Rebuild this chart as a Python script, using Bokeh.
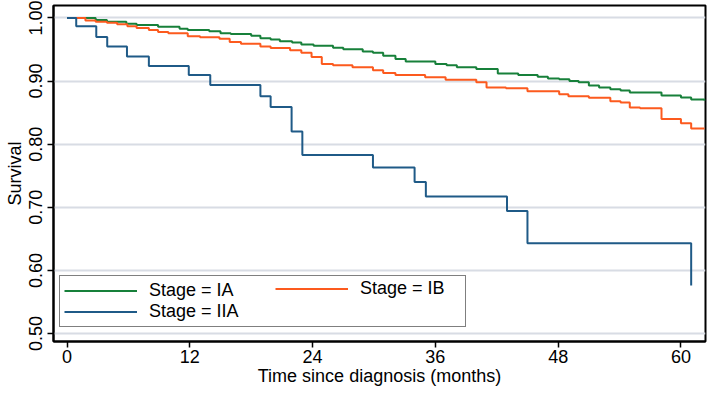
from bokeh.plotting import figure
from bokeh.models import Range1d, FixedTicker, Legend, LegendItem
from bokeh.embed import file_html
from bokeh.resources import INLINE

# ---- data ----
ia_t = [0, 2.8, 3.9, 5.8, 6.8, 8.9, 11.0, 11.8, 13.9, 15.0, 16.0, 18.0, 18.9, 19.9,
        20.8, 22.0, 22.9, 24.1, 26.0, 27.0, 28.9, 29.9, 30.9, 32.1, 33.1, 36.0, 37.1,
        38.1, 40.0, 42.1, 44.1, 46.0, 47.0, 48.1, 49.1, 50.0, 51.0, 52.0, 53.1, 54.1,
        55.0, 58.1, 60.0, 61.0, 62.3]
ia_s = [1.0, 0.997, 0.994, 0.991, 0.989, 0.986, 0.983, 0.981, 0.979, 0.976, 0.9746,
        0.972, 0.968, 0.966, 0.963, 0.961, 0.958, 0.956, 0.953, 0.9505, 0.947, 0.945,
        0.940, 0.935, 0.931, 0.927, 0.925, 0.922, 0.919, 0.912, 0.9095, 0.907, 0.904,
        0.903, 0.900, 0.898, 0.893, 0.890, 0.887, 0.885, 0.882, 0.877, 0.874, 0.871,
        0.869]

ib_t = [0, 1.8, 2.8, 3.9, 4.9, 5.9, 6.8, 8.0, 8.9, 9.9, 11.8, 13.0, 14.9, 15.9, 17.0,
        18.9, 19.9, 21.8, 22.9, 23.9, 24.9, 26.0, 27.9, 29.9, 30.9, 32.1, 35.0, 37.0,
        40.0, 41.0, 42.9, 45.0, 48.1, 49.0, 51.0, 53.1, 54.1, 55.0, 56.0, 58.1, 60.0,
        61.0, 62.3]
ib_s = [1.0, 0.996, 0.994, 0.9926, 0.990, 0.987, 0.984, 0.981, 0.978, 0.976, 0.971,
        0.9695, 0.967, 0.962, 0.959, 0.955, 0.9526, 0.949, 0.945, 0.938, 0.927, 0.925,
        0.922, 0.917, 0.913, 0.9095, 0.906, 0.902, 0.898, 0.890, 0.8885, 0.884, 0.879,
        0.876, 0.8735, 0.868, 0.866, 0.858, 0.857, 0.840, 0.833, 0.825, 0.825]

iia_t = [0, 0.9, 2.86, 3.93, 5.86, 8.0, 11.9, 14.0, 18.9, 19.9, 21.95, 23.0, 29.9,
         33.97, 35.07, 43.0, 45.0, 61.0]
iia_s = [1.0, 0.987, 0.970, 0.955, 0.939, 0.924, 0.9095, 0.894, 0.876, 0.859, 0.820,
         0.783, 0.763, 0.740, 0.717, 0.694, 0.643, 0.576]

series_names = ["Stage = IA", "Stage = IB", "Stage = IIA"]
x_ticks = [0, 12, 24, 36, 48, 60]
y_ticks = [0.5, 0.6, 0.7, 0.8, 0.9, 1.0]
y_tick_labels = ["0.50", "0.60", "0.70", "0.80", "0.90", "1.00"]

FONT = "Liberation Sans"
FS = "18px"
GREEN, ORANGE, BLUE = "#17803a", "#fc5a1e", "#1f5a87"

p = figure(width=707, height=391, output_backend="svg", toolbar_location=None,
           x_range=Range1d(-1.32, 62.4), y_range=Range1d(0.4873, 1.0198),
           min_border_left=53, min_border_right=2, min_border_top=5,
           min_border_bottom=50)
p.background_fill_color = "white"
p.border_fill_color = "white"
p.outline_line_color = "black"
p.outline_line_width = 2

r_ia = p.step(ia_t, ia_s, mode="after", line_color=GREEN, line_width=2)
r_ib = p.step(ib_t, ib_s, mode="after", line_color=ORANGE, line_width=2)
r_iia = p.step(iia_t, iia_s, mode="after", line_color=BLUE, line_width=2)

p.xgrid.visible = False
p.ygrid.ticker = FixedTicker(ticks=y_ticks)
p.ygrid.grid_line_color = "#d8dce4"
p.ygrid.grid_line_width = 2

xa = p.xaxis[0]
xa.ticker = FixedTicker(ticks=x_ticks)
xa.axis_label = "Time since diagnosis (months)"
ya = p.yaxis[0]
ya.ticker = FixedTicker(ticks=y_ticks)
ya.major_label_overrides = {t: l for t, l in zip(y_ticks, y_tick_labels)}
ya.axis_label = "Survival"
ya.major_label_orientation = "vertical"

for ax in (xa, ya):
    ax.axis_line_color = "black"
    ax.axis_line_width = 2
    ax.major_tick_line_color = "black"
    ax.major_tick_line_width = 1.5
    ax.major_tick_out = 6
    ax.major_tick_in = 0
    ax.minor_tick_line_color = None
    ax.major_label_text_font = FONT
    ax.major_label_text_font_size = FS
    ax.major_label_text_color = "black"
    ax.axis_label_text_font = FONT
    ax.axis_label_text_font_size = FS
    ax.axis_label_text_font_style = "normal"
    ax.axis_label_text_color = "black"
xa.major_label_standoff = 2
xa.axis_label_standoff = 0
ya.major_label_standoff = 5
ya.axis_label_standoff = 2


def style_legend(lg):
    lg.margin = 0
    lg.padding = 4
    lg.spacing = 0
    lg.glyph_width = 73
    lg.glyph_height = 21
    lg.label_height = 21
    lg.label_standoff = 12
    lg.label_text_font = FONT
    lg.label_text_font_size = FS
    lg.label_text_color = "black"


# left column (with the box) and right column (IB) of the legend
legend1 = Legend(items=[LegendItem(label=series_names[0], renderers=[r_ia]),
                        LegendItem(label=series_names[2], renderers=[r_iia])],
                 location=(6, 14))
style_legend(legend1)
legend1.label_width = 312
legend1.border_line_color = "black"
legend1.border_line_width = 1.5
legend1.background_fill_alpha = 1

legend2 = Legend(items=[LegendItem(label=series_names[1], renderers=[r_ib])],
                 location=(222, 42))
style_legend(legend2)
legend2.border_line_color = None
legend2.background_fill_alpha = 0

p.add_layout(legend1)
p.add_layout(legend2)

open("out.html", "w").write(file_html(p, INLINE))
